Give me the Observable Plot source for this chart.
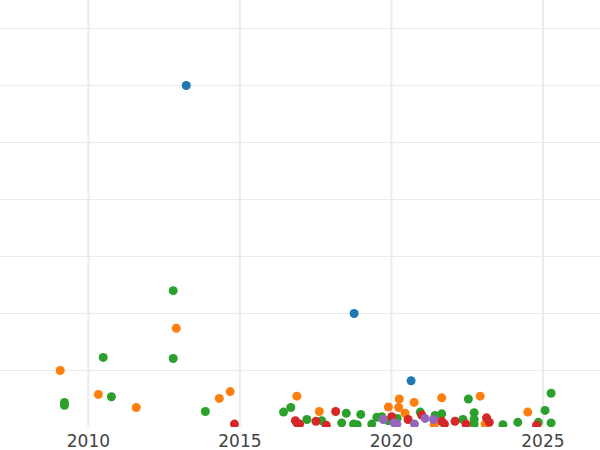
<!DOCTYPE html>
<html>
<head>
<meta charset="utf-8">
<script src="https://cdn.jsdelivr.net/npm/d3@7"></script>
<script src="https://cdn.jsdelivr.net/npm/@observablehq/plot@0.6"></script>
<style>
  html, body { margin: 0; padding: 0; background: #fff; }
  #chart svg { display: block; }
</style>
</head>
<body>
<div id="chart"></div>
<script>
// Tick labels
const xTicks = [2010, 2015, 2020, 2025];
const yGridTicks = [1, 2, 3, 4, 5, 6, 7];

// Series (colour order follows category10)
const seriesNames = ["S1", "S2", "S3", "S4", "S5"];
const seriesColors = ["#1f77b4", "#ff7f0e", "#2ca02c", "#d62728", "#9467bd"];

const s1Year  = [2013.23, 2018.77, 2020.65];
const s1Value = [6.00, 2.00, 0.82];

const s2Year  = [2009.07, 2012.90, 2010.33, 2011.58, 2014.32, 2014.68, 2016.88, 2017.62, 2019.90, 2020.26, 2020.24, 2020.45, 2020.75, 2021.66, 2022.93, 2023.09, 2024.50, 2021.41];
const s2Value = [1.00, 1.74, 0.58, 0.35, 0.51, 0.63, 0.55, 0.28, 0.36, 0.50, 0.35, 0.25, 0.44, 0.52, 0.55, 0.06, 0.27, 0.05];

const s3Year  = [2012.80, 2012.80, 2010.49, 2009.21, 2009.21, 2010.76, 2013.86, 2016.44, 2016.68, 2017.21, 2017.70, 2018.36, 2018.51, 2018.99, 2018.75, 2018.87, 2019.35, 2019.52, 2019.68, 2019.89, 2020.95, 2021.44, 2021.66, 2022.54, 2022.73, 2022.73, 2022.73, 2022.36, 2023.68, 2024.17, 2024.85, 2025.07, 2025.27, 2025.27, 2020.19];
const s3Value = [2.40, 1.21, 1.23, 0.44, 0.39, 0.54, 0.28, 0.27, 0.35, 0.14, 0.12, 0.08, 0.25, 0.23, 0.06, 0.05, 0.06, 0.18, 0.19, 0.12, 0.27, 0.21, 0.24, 0.50, 0.26, 0.14, 0.06, 0.14, 0.05, 0.09, 0.09, 0.30, 0.60, 0.08, 0.16];

const s4Year  = [2014.82, 2016.83, 2016.88, 2016.97, 2017.51, 2017.85, 2018.16, 2020.01, 2020.55, 2021.00, 2021.66, 2021.75, 2022.10, 2022.46, 2023.14, 2023.23, 2024.79];
const s4Value = [0.06, 0.12, 0.08, 0.06, 0.11, 0.04, 0.28, 0.19, 0.14, 0.22, 0.11, 0.06, 0.11, 0.06, 0.17, 0.09, 0.04];

const s5Year  = [2019.73, 2020.09, 2020.18, 2020.76, 2021.11, 2021.39];
const s5Value = [0.14, 0.08, 0.06, 0.06, 0.16, 0.14];

const series = {
  S1: [s1Year, s1Value],
  S2: [s2Year, s2Value],
  S3: [s3Year, s3Value],
  S4: [s4Year, s4Value],
  S5: [s5Year, s5Value]
};

// Draw order (later on top)
const drawOrder = ["S3", "S2", "S4", "S5", "S1"];
const data = [];
for (const name of drawOrder) {
  const [xs, ys] = series[name];
  xs.forEach((x, i) => data.push({series: name, year: x, value: ys[i]}));
}

const chart = Plot.plot({
  width: 600,
  height: 450,
  marginTop: 0,
  marginBottom: 23,
  marginLeft: 0,
  marginRight: 0,
  style: {fontFamily: "DejaVu Sans, sans-serif", background: "#fff"},
  x: {domain: [2007.1, 2026.9], label: null},
  y: {domain: [0, 7.49], axis: null},
  color: {type: "ordinal", domain: seriesNames, range: seriesColors},
  marks: [
    Plot.gridY(yGridTicks, {stroke: "#ebebeb", strokeOpacity: 1, strokeWidth: 1}),
    Plot.gridX(xTicks, {stroke: "#ebebeb", strokeOpacity: 1, strokeWidth: 2}),
    Plot.axisX(xTicks, {tickSize: 0, tickPadding: 7, tickFormat: d => String(d), fontSize: 17, fill: "#444", label: null}),
    Plot.dot(data, {x: "year", y: "value", fill: "series", r: 4.5, fillOpacity: 1, clip: true})
  ]
});
document.getElementById("chart").appendChild(chart);
</script>
</body>
</html>
